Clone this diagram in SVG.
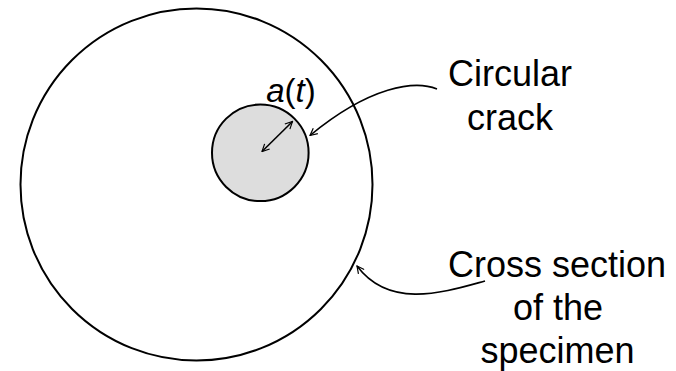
<svg xmlns="http://www.w3.org/2000/svg" width="676" height="371" viewBox="0 0 676 371">
<defs>
<marker id="v" viewBox="0 0 10 10" refX="9" refY="5" markerWidth="9" markerHeight="9" markerUnits="userSpaceOnUse" orient="auto-start-reverse">
<path d="M1,1 L9,5 L1,9" fill="none" stroke="#000" stroke-width="1.3"/>
</marker>
</defs>
<style>
.t{font-family:"Liberation Sans",Arial,sans-serif;font-size:36px;fill:#000;text-anchor:middle}
.c{stroke:#000;stroke-width:2;fill:none}
.a{stroke:#000;stroke-width:1.6;fill:none}
</style>
<rect width="676" height="371" fill="#fff"/>
<g id="specimen">
<circle class="c" cx="196.5" cy="184.5" r="176"/>
</g>
<g id="crack">
<circle class="c" cx="260.3" cy="152.8" r="48.3" style="fill:#dddddd"/>
</g>
<g id="connectors">
<path class="a" d="M262,151.5 L292.5,121.5" marker-start="url(#v)" marker-end="url(#v)"/>
<path class="a" d="M437,89 C415,80 370,86 310,135.5" marker-end="url(#v)"/>
<path class="a" d="M485,281 C445,292 390,310 357,266" marker-end="url(#v)"/>
</g>
<g id="labels">
<text class="t" x="291" y="101.5" style="font-size:33px"><tspan font-style="italic">a</tspan>(<tspan font-style="italic">t</tspan>)</text>
<text class="t" x="510" y="86">Circular</text>
<text class="t" x="510" y="130">crack</text>
<text class="t" x="557" y="277">Cross section</text>
<text class="t" x="558" y="320">of the</text>
<text class="t" x="557.5" y="363">specimen</text>
</g>
</svg>
